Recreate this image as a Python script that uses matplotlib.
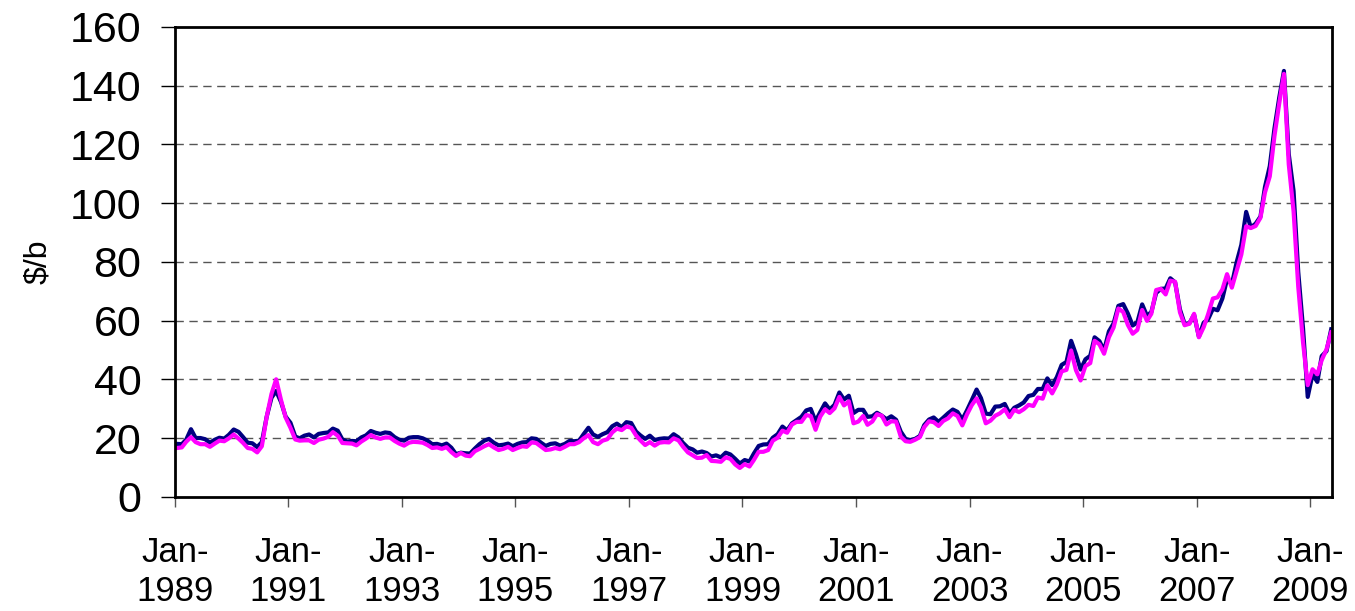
import pandas as pd
import matplotlib.pyplot as plt

plt.rcParams['font.family'] = ['Liberation Sans', 'DejaVu Sans']

# monthly prices, Jan 1989 - May 2009 ($/b)
navy = [
    18.0, 17.9, 19.4, 23.0, 20.0, 20.0, 19.6, 18.4, 19.4, 20.1, 19.8, 21.1,  # 1989
    22.9, 22.1, 20.4, 18.4, 18.2, 16.9, 18.6, 27.2, 33.7, 36.0, 32.3, 27.3,  # 1990
    25.2, 20.5, 19.9, 20.8, 21.2, 20.2, 21.4, 21.7, 21.9, 23.2, 22.5, 19.5,  # 1991
    18.8, 19.0, 18.9, 20.2, 20.9, 22.4, 21.8, 21.4, 21.9, 21.7, 20.3, 19.4,  # 1992
    19.1, 20.1, 20.3, 20.3, 19.9, 19.1, 17.9, 18.0, 17.5, 18.1, 16.7, 14.5,  # 1993
    15.0, 14.8, 14.7, 16.4, 17.9, 19.1, 19.7, 18.4, 17.5, 17.7, 18.1, 17.2,  # 1994
    18.0, 18.5, 18.6, 19.9, 19.7, 18.4, 17.3, 18.0, 18.2, 17.4, 18.0, 19.0,  # 1995
    18.9, 19.1, 21.3, 23.5, 21.2, 20.4, 21.3, 22.0, 24.0, 24.9, 23.7, 25.4,  # 1996
    25.1, 22.2, 20.9, 19.7, 20.8, 19.3, 19.7, 19.9, 19.8, 21.3, 20.2, 18.3,  # 1997
    16.7, 16.1, 15.0, 15.4, 14.9, 13.7, 14.1, 13.4, 15.0, 14.4, 12.9, 11.3,  # 1998
    12.5, 12.0, 14.7, 17.3, 17.8, 17.9, 20.1, 21.3, 23.9, 22.6, 25.0, 26.1,  # 1999
    27.2, 29.4, 29.9, 25.7, 28.8, 31.8, 29.7, 31.3, 35.5, 33.1, 34.4, 28.5,  # 2000
    29.6, 29.6, 27.2, 27.4, 28.6, 27.6, 26.4, 27.4, 26.2, 22.2, 19.7, 19.3,  # 2001
    19.7, 20.7, 24.4, 26.3, 27.0, 25.5, 26.9, 28.4, 29.7, 28.9, 26.3, 29.4,  # 2002
    32.9, 36.5, 33.6, 28.3, 28.1, 30.7, 30.8, 31.6, 28.3, 30.3, 31.1, 32.1,  # 2003
    34.3, 34.7, 36.7, 36.7, 40.3, 38.0, 40.7, 44.9, 45.9, 53.1, 48.5, 43.3,  # 2004
    46.8, 48.0, 54.3, 53.0, 49.8, 56.3, 59.0, 65.0, 65.6, 62.4, 58.3, 59.4,  # 2005
    65.5, 61.6, 62.9, 69.4, 70.8, 70.9, 74.4, 73.0, 63.8, 58.9, 59.1, 62.0,  # 2006
    54.5, 59.3, 60.4, 64.0, 63.5, 67.5, 74.1, 72.4, 79.9, 85.8, 97.0, 91.7,  # 2007
    93.0, 95.4, 105.5, 112.6, 125.4, 136.0, 145.0, 116.7, 104.1, 76.6, 57.3, 34.0,  # 2008
    41.7, 39.1, 47.9, 49.6, 57.0,  # 2009
]
magenta = [
    16.6, 16.8, 18.7, 20.3, 18.6, 17.9, 17.9, 17.0, 18.1, 19.1, 18.9, 19.9,  # 1989
    21.2, 19.8, 18.4, 16.6, 16.3, 15.1, 17.2, 27.2, 35.0, 40.0, 33.0, 27.0,  # 1990
    23.5, 19.5, 19.1, 19.2, 19.2, 18.3, 19.4, 19.8, 20.4, 22.0, 20.8, 18.3,  # 1991
    18.2, 18.1, 17.5, 18.8, 19.8, 21.0, 20.2, 19.7, 20.2, 20.2, 19.0, 18.1,  # 1992
    17.4, 18.4, 18.7, 18.6, 18.4, 17.6, 16.6, 16.8, 16.3, 16.9, 15.2, 13.9,  # 1993
    14.9, 14.0, 13.8, 15.5, 16.3, 17.2, 17.9, 16.8, 15.9, 16.3, 17.0, 15.9,  # 1994
    16.6, 17.2, 17.0, 18.5, 18.3, 17.1, 15.9, 16.1, 16.6, 16.2, 17.0, 17.9,  # 1995
    17.9, 18.6, 19.9, 21.0, 18.6, 17.9, 19.1, 19.6, 21.9, 23.2, 22.7, 23.9,  # 1996
    23.5, 20.9, 19.2, 17.6, 18.6, 17.4, 18.4, 18.6, 18.5, 19.9, 19.2, 17.0,  # 1997
    15.1, 14.1, 13.2, 13.3, 14.2, 12.2, 12.1, 11.9, 13.4, 12.9, 11.0, 9.8,  # 1998
    11.1, 10.3, 12.5, 15.3, 15.3, 15.9, 19.1, 20.1, 22.5, 21.8, 24.6, 25.5,  # 1999
    25.5, 27.8, 27.5, 22.8, 27.3, 29.8, 28.5, 30.1, 34.0, 31.1, 32.5, 25.0,  # 2000
    25.6, 27.5, 24.5, 25.6, 28.1, 27.6, 24.6, 25.7, 25.6, 20.5, 18.9, 18.7,  # 2001
    19.4, 20.3, 23.7, 25.7, 25.4, 24.1, 25.8, 26.7, 28.4, 27.5, 24.3, 28.0,  # 2002
    31.2, 33.5, 30.4, 25.0, 25.9, 27.6, 28.4, 29.8, 27.1, 29.6, 28.8, 29.8,  # 2003
    31.3, 30.9, 33.8, 33.4, 37.9, 35.2, 38.2, 42.7, 43.2, 49.8, 43.1, 39.6,  # 2004
    44.5, 45.5, 53.1, 51.9, 48.7, 54.3, 57.6, 64.1, 62.9, 58.5, 55.5, 56.8,  # 2005
    63.6, 59.9, 62.3, 70.4, 70.8, 68.9, 73.6, 73.2, 62.8, 58.4, 58.9, 62.3,  # 2006
    54.3, 57.8, 62.1, 67.5, 67.9, 70.6, 75.8, 71.2, 77.0, 82.5, 92.1, 91.5,  # 2007
    92.2, 95.0, 103.6, 109.1, 122.8, 134.0, 144.0, 113.2, 97.2, 71.6, 52.5, 38.0,  # 2008
    43.4, 41.7, 46.5, 50.2, 56.0,  # 2009
]
dates = pd.date_range('1989-01-01', periods=len(navy), freq='MS') + pd.Timedelta(days=14)

tick_years = list(range(1989, 2010, 2))
tick_dates = [pd.Timestamp(f'{y}-01-01') for y in tick_years]
tick_labels = [f'Jan-\n{y}' for y in tick_years]

fig = plt.figure(figsize=(13.55, 6.11), dpi=100)
ax = fig.add_axes([0.129, 0.187, 0.854, 0.769])

ax.plot(dates, navy, color='#000080', lw=3)
ax.plot(dates, magenta, color='#ff00ff', lw=3)

ax.set_xlim(pd.Timestamp('1989-01-01'), pd.Timestamp('2009-05-20'))
ax.set_ylim(0, 160)
ax.set_yticks(range(0, 161, 20))
ax.set_xticks(tick_dates)
ax.set_xticklabels(tick_labels, linespacing=1.25)

for y in range(20, 160, 20):
    ax.axhline(y, color='#555555', lw=1, dashes=(6, 4), zorder=0)

for s in ax.spines.values():
    s.set_linewidth(2)
    s.set_color('black')

ax.tick_params(axis='y', labelsize=31, length=10, width=1, pad=14)
ax.tick_params(axis='x', labelsize=25, length=7, width=1, color='#555555', pad=21)
ax.set_ylabel('$/b', fontsize=23, labelpad=12)

fig.savefig('out.png', dpi=100)
